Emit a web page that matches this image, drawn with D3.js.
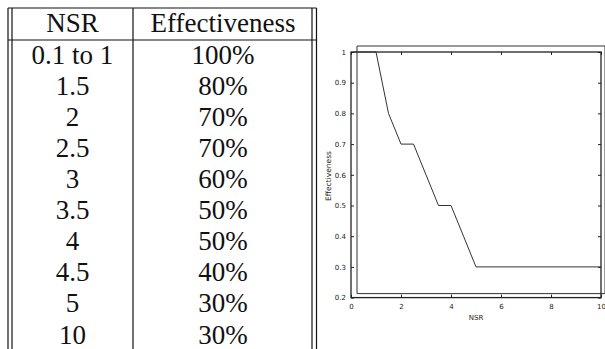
<!DOCTYPE html>
<html>
<head>
<meta charset="utf-8">
<script src="https://cdn.jsdelivr.net/npm/d3@7"></script>
<style>
  body { margin: 0; background: #fff; }
  svg { display: block; }
</style>
</head>
<body>
<div id="chart"></div>
<script>
// table contents
const tableHeader = ['NSR', 'Effectiveness'];
const tableNSR = ['0.1 to 1', '1.5', '2', '2.5', '3', '3.5', '4', '4.5', '5', '10'];
const tableEff = ['100%', '80%', '70%', '70%', '60%', '50%', '50%', '40%', '30%', '30%'];

// curve plotted on the right
const curveNSR = [0.1, 1, 1.5, 2, 2.5, 3, 3.5, 4, 4.5, 5, 10];
const curveEff = [1, 1, 0.8, 0.7, 0.7, 0.6, 0.5, 0.5, 0.4, 0.3, 0.3];

const yTicks = [0.2, 0.3, 0.4, 0.5, 0.6, 0.7, 0.8, 0.9, 1];
const xTicks = [0, 2, 4, 6, 8, 10];

const W = 605, H = 349;
const svg = d3.select('#chart').append('svg')
  .attr('width', W)
  .attr('height', H);

// ---- table ----
const ink = '#111';
const tbl = svg.append('g');
const rowY = d3.scaleLinear().domain([0, 9]).range([64, 343.5]);
const colX = d3.scaleOrdinal().domain([0, 1]).range([72.5, 223]);

const vLines = [8, 12, 133, 312, 316.5];
tbl.selectAll('.vline')
  .data(vLines)
  .enter().append('line')
  .attr('x1', d => d).attr('x2', d => d)
  .attr('y1', 8).attr('y2', H)
  .attr('stroke', ink)
  .attr('stroke-width', 1.2);

tbl.append('line')
  .attr('x1', 8).attr('x2', 316.5)
  .attr('y1', 8).attr('y2', 8)
  .attr('stroke', ink).attr('stroke-width', 1.2);
tbl.append('line')
  .attr('x1', 8).attr('x2', 316.5)
  .attr('y1', 40).attr('y2', 40)
  .attr('stroke', ink).attr('stroke-width', 1.2);

tbl.selectAll('.head')
  .data(tableHeader)
  .enter().append('text')
  .attr('x', (d, i) => colX(i))
  .attr('y', 32)
  .attr('text-anchor', 'middle')
  .style('font-family', 'Liberation Serif, serif')
  .style('font-size', '27px')
  .attr('fill', ink)
  .text(d => d);

const rows = tableNSR.map((d, i) => [d, tableEff[i]]);
const rowG = tbl.selectAll('.row')
  .data(rows)
  .enter().append('g')
  .attr('transform', (d, i) => `translate(0,${rowY(i)})`);

rowG.selectAll('text')
  .data(d => d)
  .enter().append('text')
  .attr('x', (d, i) => colX(i))
  .attr('text-anchor', 'middle')
  .style('font-family', 'Liberation Serif, serif')
  .style('font-size', '27px')
  .attr('fill', ink)
  .text(d => d);

// ---- plot ----
const x = d3.scaleLinear().domain([0, 10]).range([351, 601]);
const y = d3.scaleLinear().domain([0.2, 1]).range([297.6, 52]);

const plot = svg.append('g');

// shadow frame left by the scan
plot.append('path')
  .attr('d', `M${x(0) + 6},${y(0.2) - 4} V46 H605 V${y(0.2) - 4} H${x(0) + 6}`)
  .attr('fill', 'none')
  .attr('stroke', '#333')
  .attr('stroke-width', 1);

// axes box
plot.append('rect')
  .attr('x', x(0)).attr('y', y(1))
  .attr('width', x(10) - x(0)).attr('height', y(0.2) - y(1))
  .attr('fill', 'none')
  .attr('stroke', '#222')
  .attr('stroke-width', 1.3);

// inward ticks
plot.append('g')
  .attr('transform', `translate(0,${y(0.2)})`)
  .call(d3.axisBottom(x).tickValues(xTicks).tickSize(-3).tickPadding(6).tickFormat(d3.format('d')))
  .call(g => g.select('.domain').remove());
plot.append('g')
  .attr('transform', `translate(0,${y(1)})`)
  .call(d3.axisTop(x).tickValues(xTicks).tickSize(-3).tickFormat(''))
  .call(g => g.select('.domain').remove());
plot.append('g')
  .attr('transform', `translate(${x(0)},0)`)
  .call(d3.axisLeft(y).tickValues(yTicks).tickSize(-3).tickPadding(5).tickFormat(d3.format('~g')))
  .call(g => g.select('.domain').remove());
plot.append('g')
  .attr('transform', `translate(${x(10)},0)`)
  .call(d3.axisRight(y).tickValues(yTicks).tickSize(-3).tickFormat(''))
  .call(g => g.select('.domain').remove());

plot.selectAll('.tick line').attr('stroke', '#222');
plot.selectAll('.tick text')
  .style('font-family', 'DejaVu Sans, sans-serif')
  .style('font-size', '7px')
  .attr('fill', '#222');

// data line
const line = d3.line()
  .x((d, i) => x(curveNSR[i]))
  .y(d => y(d));

plot.append('path')
  .datum(curveEff)
  .attr('fill', 'none')
  .attr('stroke', '#333')
  .attr('stroke-width', 1)
  .attr('d', line);

// axis titles
plot.append('text')
  .attr('x', 476)
  .attr('y', 320)
  .attr('text-anchor', 'middle')
  .style('font-family', 'DejaVu Sans, sans-serif')
  .style('font-size', '7px')
  .attr('fill', '#222')
  .text('NSR');

plot.append('text')
  .attr('transform', 'translate(331,176) rotate(-90)')
  .attr('text-anchor', 'middle')
  .style('font-family', 'DejaVu Sans, sans-serif')
  .style('font-size', '7.5px')
  .attr('fill', '#222')
  .text('Effectiveness');
</script>
</body>
</html>
